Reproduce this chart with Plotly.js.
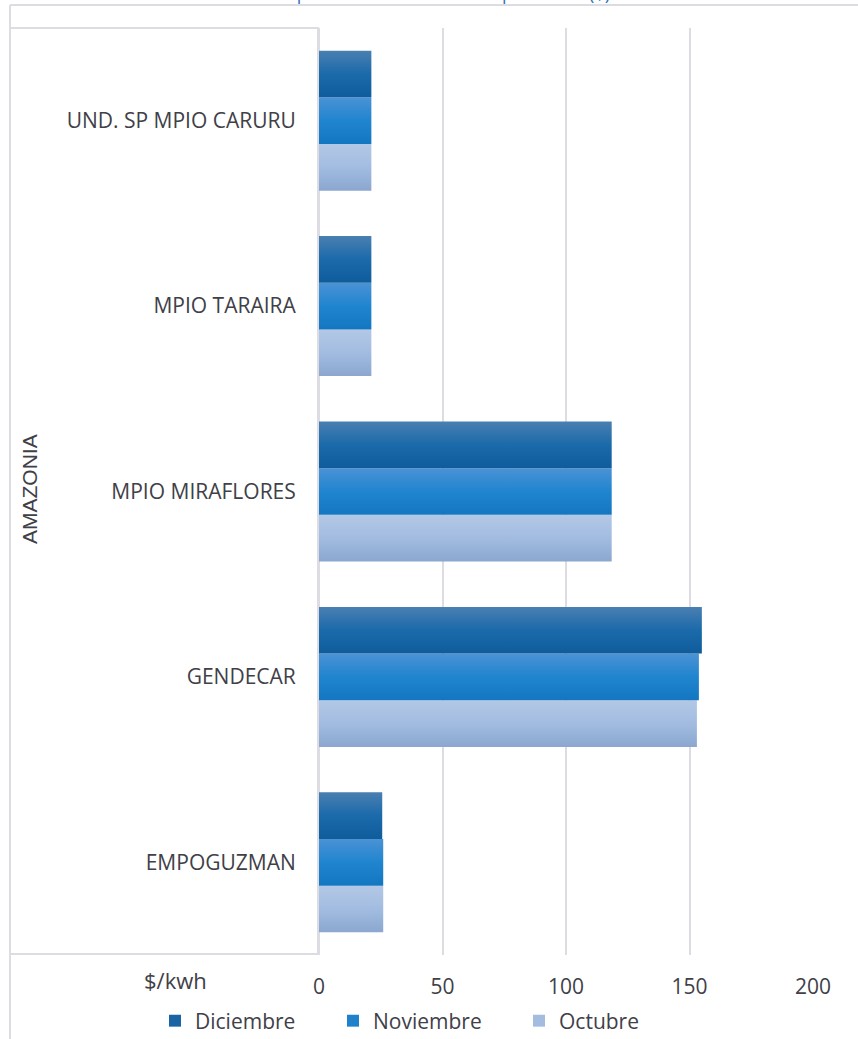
<!DOCTYPE html>
<html>
<head>
<meta charset="utf-8">
<script src="https://cdn.plot.ly/plotly-3.0.1.min.js"></script>
<style>
  html, body { margin: 0; padding: 0; background: #ffffff; }
  #chart { width: 858px; height: 1039px; }
</style>
</head>
<body>
<div id="chart"></div>
<script>
// ---- Data ----
const categories = ["EMPOGUZMAN", "GENDECAR", "MPIO MIRAFLORES", "MPIO TARAIRA", "UND. SP MPIO CARURU"];
const octubre    = [26.0, 153.0, 118.5, 21.2, 21.2];
const noviembre  = [26.0, 153.8, 118.5, 21.2, 21.2];
const diciembre  = [25.6, 155.0, 118.5, 21.2, 21.2];
const seriesNames = ["Octubre", "Noviembre", "Diciembre"];
const xTickVals = [0, 50, 100, 150, 200];
const groupLabel = "AMAZONIA";
const unitLabel = "$/kwh";
const titleText = "Componente de distribución promedio ($)";

// ---- Layout geometry (pixels) ----
const PW = 858, PH = 1039;
const L = 319, R = 813, T = 28, B = 955;
const W = R - L, H = B - T;
const px = x => (x - L) / W;
const py = y => (B - y) / H;

const FONT = "'Open Sans', Lato, sans-serif";
const TXT = "#404048";
const GRID = "#dcdce2";

const colors = { Octubre: "#a3bce0", Noviembre: "#1f80cc", Diciembre: "#1a64a3" };
const grads = {
  Octubre:   ["#b3c8e5", "#a2bce1", "#8ba7cf"],
  Noviembre: ["#4b92d5", "#2085cf", "#1476c0"],
  Diciembre: ["#4a7fb1", "#1b6aaa", "#0f5c9b"]
};
// one legend per series, placed where the reference shows each entry
const legendOf = { Diciembre: "legend", Noviembre: "legend2", Octubre: "legend3" };
const legendX  = { legend: 155, legend2: 333, legend3: 519 };

const seriesVals = { Octubre: octubre, Noviembre: noviembre, Diciembre: diciembre };
const traces = seriesNames.map(n => ({
  type: "bar",
  orientation: "h",
  name: n,
  y: categories,
  x: seriesVals[n],
  legend: legendOf[n],
  marker: { color: colors[n], line: { width: 0 } },
  hoverinfo: "x+name"
}));

function legendSpec(key) {
  return {
    orientation: "h",
    xref: "container", yref: "container",
    x: legendX[key] / PW, xanchor: "left",
    y: 1 - 1021 / PH, yanchor: "middle",
    font: { family: FONT, size: 21, color: TXT },
    bgcolor: "rgba(0,0,0,0)"
  };
}

const layout = {
  width: PW, height: PH,
  margin: { l: L, r: PW - R, t: T, b: PH - B, pad: 0, autoexpand: false },
  paper_bgcolor: "#ffffff",
  plot_bgcolor: "#ffffff",
  barmode: "group",
  bargap: 0.245,
  bargroupgap: 0,
  font: { family: FONT, color: TXT, size: 18 },
  showlegend: true,
  legend: legendSpec("legend"),
  legend2: legendSpec("legend2"),
  legend3: legendSpec("legend3"),
  xaxis: {
    range: [0, 200],
    tickvals: xTickVals,
    ticktext: xTickVals.map(String),
    showgrid: true, gridcolor: GRID, gridwidth: 2,
    zeroline: true, zerolinecolor: GRID, zerolinewidth: 2,
    showline: false,
    ticks: "", ticklabelstandoff: 17,
    tickfont: { family: FONT, size: 21, color: TXT },
    fixedrange: true
  },
  yaxis: {
    type: "category",
    categoryorder: "array",
    categoryarray: categories,
    range: [-0.5, categories.length - 0.5],
    showgrid: false, zeroline: false,
    showline: true, linecolor: GRID, linewidth: 2,
    ticks: "", ticklabelstandoff: 17,
    tickfont: { family: FONT, size: 21, color: TXT },
    fixedrange: true
  },
  shapes: [
    // outer frame (top & left)
    { type: "line", xref: "paper", yref: "paper", x0: px(10), x1: px(PW + 2), y0: py(5), y1: py(5), line: { color: GRID, width: 2 } },
    { type: "line", xref: "paper", yref: "paper", x0: px(10), x1: px(10), y0: py(5), y1: py(PH + 2), line: { color: GRID, width: 2 } },
    // label box top & bottom
    { type: "line", xref: "paper", yref: "paper", x0: px(10), x1: 0, y0: 1, y1: 1, line: { color: GRID, width: 2 } },
    { type: "line", xref: "paper", yref: "paper", x0: px(10), x1: 0, y0: py(954), y1: py(954), line: { color: GRID, width: 2 } }
  ],
  annotations: [
    { text: groupLabel, xref: "paper", yref: "paper", x: px(29), y: py(489), textangle: -90,
      showarrow: false, xanchor: "center", yanchor: "middle",
      font: { family: "'Liberation Sans', Arial, sans-serif", size: 21, color: TXT } },
    { text: unitLabel, xref: "paper", yref: "paper", x: px(175), y: py(980),
      showarrow: false, xanchor: "center", yanchor: "middle",
      font: { family: FONT, size: 22, color: TXT } },
    { text: titleText, xref: "paper", yref: "paper", x: px(434), y: py(7),
      showarrow: false, xanchor: "center", yanchor: "bottom",
      font: { family: FONT, size: 18, color: "#2e75b6" } }
  ]
};

function applyGradients(gd) {
  const svg = gd.querySelector("svg.main-svg");
  if (!svg) return;
  let defs = svg.querySelector("defs");
  if (!defs) { defs = document.createElementNS("http://www.w3.org/2000/svg", "defs"); svg.insertBefore(defs, svg.firstChild); }
  seriesNames.forEach(n => {
    const id = "grad-" + n;
    if (!svg.querySelector("#" + id)) {
      const lg = document.createElementNS("http://www.w3.org/2000/svg", "linearGradient");
      lg.setAttribute("id", id);
      lg.setAttribute("x1", "0"); lg.setAttribute("y1", "0");
      lg.setAttribute("x2", "0"); lg.setAttribute("y2", "1");
      [[0, grads[n][0]], [0.5, grads[n][1]], [1, grads[n][2]]].forEach(([o, c]) => {
        const s = document.createElementNS("http://www.w3.org/2000/svg", "stop");
        s.setAttribute("offset", o); s.setAttribute("stop-color", c);
        lg.appendChild(s);
      });
      defs.appendChild(lg);
    }
  });
  const traceGroups = gd.querySelectorAll(".barlayer .trace");
  traceGroups.forEach((g, i) => {
    const n = seriesNames[i];
    g.querySelectorAll("path").forEach(p => { p.style.fill = "url(#grad-" + n + ")"; });
  });
}

const gd = document.getElementById("chart");
Plotly.newPlot(gd, traces, layout, { displayModeBar: false, staticPlot: true }).then(() => applyGradients(gd));
gd.on && gd.on("plotly_afterplot", () => applyGradients(gd));
</script>
</body>
</html>
